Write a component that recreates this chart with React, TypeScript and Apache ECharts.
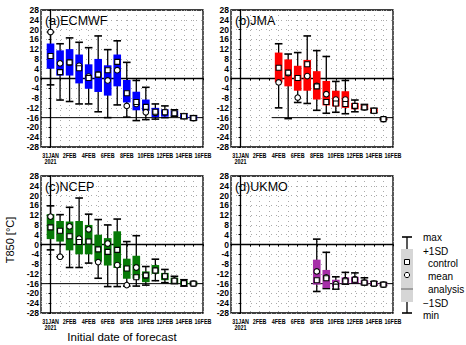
import React, { useEffect, useRef } from "react";
import * as echarts from "echarts";

// x = day index from 31 JAN 2021 (0) to 16 FEB (16)
const DATE_TICKS = [0, 2, 4, 6, 8, 10, 12, 14, 16];
const DATE_LABELS = ["31JAN", "2FEB", "4FEB", "6FEB", "8FEB", "10FEB", "12FEB", "14FEB", "16FEB"];
const YEAR_LABEL = "2021";
const Y_TICKS_MIN = -28;
const Y_TICKS_MAX = 28;
const ANALYSIS = -16;

// ECMWF
const ecDays = [0, 1, 2, 3, 4, 5, 6, 7, 8, 9, 10, 11, 12, 13, 14, 15];
const ecMax = [19, 14.2, 16.6, 14.8, 12.6, 17.4, 11.8, 15.4, 6.6, -0.8, -3.6, -10.4, -11.2, -12.8, -14.4, -15.2];
const ecHi = [14.3, 11.5, 12, 9.8, 5.8, 8, 5.4, 9.8, -0.6, -5.4, -8.6, -12, -12.6, -13.2, -14.6, -15.4];
const ecLo = [4, 1.2, 1.2, -2, -4.2, -5.5, -7, -3.2, -9.8, -13, -13.2, -15.8, -15.6, -15.2, -16.2, -16.8];
const ecMin = [-2.6, -8.8, -9.4, -10.4, -10.4, -13.6, -16, -10.8, -15.8, -17.2, -16.8, -16.6, -16, -15.4, -16.4, -17];
const ecCtl = [9.2, 2.6, 6.6, 4.2, 0.2, 1.6, 3.4, 6.8, -6, -9.6, -11.6, -13.6, -13.8, -14.2, -15.4, -16.2];
const ecMean = [19, 6.2, 6.6, 5.2, 0.8, 1.6, -0.8, 3.4, -11.2, -10.4, -13.8, -14, -13.8, -14.2, -15.4, -16.2];

// JMA
const jmDays = [4, 5, 6, 7, 8, 9, 10, 11, 12, 13, 14, 15];
const jmMax = [14.2, 10, 10.6, 17.4, 11.4, 9, -1.2, -0.8, -8.8, -10.6, -12.2, -16.4];
const jmHi = [10.6, 7.8, 5.2, 7.6, 3, -1, -5, -5.2, -10, -10.8, -12.4, -16.4];
const jmLo = [-1.6, -3.2, -5, -5, -8.6, -11, -11.4, -12, -12.6, -12.4, -13.8, -16.8];
const jmMin = [-12, -16.4, -9.8, -10.2, -13, -14.2, -13.8, -14.4, -13.6, -12.6, -14, -16.8];
const jmCtl = [4.4, 2.4, 0.2, 5.8, -3.2, -9.6, -10.2, -10.4, -11.2, -11.8, -13.2, -16.6];
const jmMean = [-1.6, 2.2, -7.8, 1, -3, -6.4, -8.6, -8.6, -11.4, -11.8, -13.2, -16.6];

// NCEP
const ncDays = [0, 1, 2, 3, 4, 5, 6, 7, 8, 9, 10, 11, 12, 13, 14, 15];
const ncMax = [15.8, 12.2, 15.2, 19, 12.4, 10.2, 8, 10.4, 1.2, 3.6, -9, -6, -10.2, -13, -14.4, -15.4];
const ncHi = [12.4, 9.6, 9.4, 9.6, 8, 4, 2.6, 5.4, -5.8, -4.6, -11, -8.4, -11.6, -13.6, -14.8, -15.4];
const ncLo = [2.2, 1.2, -2.4, -4, -4, -7, -8.6, -9.6, -14, -14, -15.4, -12, -14.6, -15.8, -16.6, -16.4];
const ncMin = [-2.2, -5, -9.4, -9.4, -7.6, -13.8, -17.2, -17.2, -17, -17, -16.6, -14.8, -15.6, -16, -17, -16.4];
const ncCtl = [7, 5.6, 3.4, 1, 1.2, -2, -3, -2.2, -9.8, -13.4, -12.6, -10.6, -13, -14.8, -15.8, -16];
const ncMean = [11.4, -5, 7.4, 2.4, 6.2, -7.2, 0.4, -8.4, -16.6, -9.4, -12.6, -10.6, -13, -14.8, -15.8, -16];

// UKMO
const ukDays = [8, 9, 10, 11, 12, 13, 14, 15];
const ukMax = [2.2, -3.2, -13.2, -11.4, -11.6, -13.6, -15.2, -15.6];
const ukHi = [-6.2, -10.4, -14.4, -13.4, -13.2, -14.6, -15.4, -15.8];
const ukLo = [-16.4, -17.8, -17.6, -16, -15.8, -16.4, -16.6, -16.8];
const ukMin = [-19.2, -18, -18.2, -16.2, -15.8, -16.4, -16.6, -16.8];
const ukCtl = [-14.6, -13.8, -17.2, -15, -14.4, -15.6, -16, -16.4];
const ukMean = [-11, -13.4, -16.2, -14.6, -14.2, -15.6, -16, -16.4];

const MODELS = [
  { name: "(a)ECMWF", color: "#0000ff", days: ecDays, max: ecMax, hi: ecHi, lo: ecLo, min: ecMin, ctl: ecCtl, mean: ecMean, aStart: -1 },
  { name: "(b)JMA", color: "#ff0000", days: jmDays, max: jmMax, hi: jmHi, lo: jmLo, min: jmMin, ctl: jmCtl, mean: jmMean, aStart: 3.3 },
  { name: "(c)NCEP", color: "#067a06", days: ncDays, max: ncMax, hi: ncHi, lo: ncLo, min: ncMin, ctl: ncCtl, mean: ncMean, aStart: -1 },
  { name: "(d)UKMO", color: "#a62ea8", days: ukDays, max: ukMax, hi: ukHi, lo: ukLo, min: ukMin, ctl: ukCtl, mean: ukMean, aStart: 7.4 },
];

const GRIDS = [
  { left: 41, top: 10 },
  { left: 231, top: 10 },
  { left: 41, top: 176 },
  { left: 231, top: 176 },
];
const GW = 162;
const GH = 137;
const FONT = "'Liberation Sans', Arial, sans-serif";

export default function App() {
  const ref = useRef<HTMLDivElement>(null);
  useEffect(() => {
    if (!ref.current) return;
    const chart = echarts.init(ref.current, undefined, { renderer: "svg" });
    const grid: any[] = [];
    const xAxis: any[] = [];
    const yAxis: any[] = [];
    const series: any[] = [];
    const graphic: any[] = [];

    MODELS.forEach((m, i) => {
      const g = GRIDS[i];
      grid.push({ left: g.left, top: g.top, width: GW, height: GH, show: true, borderColor: "#000", borderWidth: 1.3, containLabel: false });
      xAxis.push({
        type: "value", gridIndex: i, min: -1, max: 16, interval: 1,
        axisLine: { show: true, lineStyle: { color: "#000", width: 1.3 } },
        axisTick: { show: true, length: 2, lineStyle: { color: "#000" } },
        axisLabel: { show: false },
        splitLine: { show: true, lineStyle: { color: "#aaa", type: [1, 4], width: 1 } },
      });
      yAxis.push({
        type: "value", gridIndex: i, min: Y_TICKS_MIN, max: Y_TICKS_MAX, interval: 4,
        axisLine: { show: true, lineStyle: { color: "#000", width: 1.3 } },
        axisTick: { show: true, length: 2, lineStyle: { color: "#000" } },
        axisLabel: { fontSize: 8.5, fontFamily: FONT, color: "#000", margin: 2, fontWeight: "bold" },
        splitLine: { show: true, lineStyle: { color: "#aaa", type: [1, 4], width: 1 } },
      });
      series.push({
        type: "line", xAxisIndex: i, yAxisIndex: i, symbol: "none", z: 1,
        data: [[m.aStart, ANALYSIS], [16, ANALYSIS]],
        lineStyle: { color: "#000", width: 1 },
      });
      const data = m.days.map((d, k) => [d, m.min[k], m.lo[k], m.hi[k], m.max[k], m.ctl[k], m.mean[k]]);
      const color = m.color;
      series.push({
        type: "custom", xAxisIndex: i, yAxisIndex: i, z: 3,
        encode: { x: 0, y: [1, 4] },
        data,
        renderItem: (params: any, api: any) => {
          const x = api.value(0);
          const pMin = api.coord([x, api.value(1)]);
          const pLo = api.coord([x, api.value(2)]);
          const pHi = api.coord([x, api.value(3)]);
          const pMax = api.coord([x, api.value(4)]);
          const pCtl = api.coord([x, api.value(5)]);
          const pMean = api.coord([x, api.value(6)]);
          const unit = api.size([1, 0])[0];
          const bw = unit * 0.8;
          const cw = unit * 0.8;
          const cx = pMin[0];
          return {
            type: "group",
            children: [
              { type: "line", shape: { x1: cx, y1: pMax[1], x2: cx, y2: pMin[1] }, style: { stroke: "#000", lineWidth: 1.3 } },
              { type: "line", shape: { x1: cx - cw / 2, y1: pMax[1], x2: cx + cw / 2, y2: pMax[1] }, style: { stroke: "#000", lineWidth: 1.6 } },
              { type: "line", shape: { x1: cx - cw / 2, y1: pMin[1], x2: cx + cw / 2, y2: pMin[1] }, style: { stroke: "#000", lineWidth: 1.6 } },
              { type: "rect", shape: { x: cx - bw / 2, y: pHi[1], width: bw, height: Math.max(pLo[1] - pHi[1], 1) }, style: { fill: color } },
              { type: "circle", shape: { cx, cy: pMean[1], r: 2.8 }, style: { fill: "#fff", stroke: "#000", lineWidth: 1.1 } },
              { type: "rect", shape: { x: cx - 2.5, y: pCtl[1] - 2.5, width: 5, height: 5 }, style: { fill: "#fff", stroke: "#000", lineWidth: 1.1 } },
            ],
          };
        },
      });
    });

    chart.setOption({ animation: false, backgroundColor: "#fff", grid, xAxis, yAxis, series });

    MODELS.forEach((m, i) => {
      const g = GRIDS[i];
      graphic.push({
        type: "text", x: g.left + 4, y: g.top + 4, z: 10,
        style: { text: m.name, fontSize: 12.5, fontFamily: FONT, fill: "#000" },
      });
      DATE_TICKS.forEach((d, k) => {
        const p = chart.convertToPixel({ gridIndex: i }, [d, Y_TICKS_MIN]) as number[];
        graphic.push({
          type: "text", x: p[0], y: p[1] + 4, scaleX: 0.72, z: 10,
          style: { text: DATE_LABELS[k], fontSize: 7.5, fontFamily: FONT, fontWeight: "bold", fill: "#000", textAlign: "center", textVerticalAlign: "top" },
        });
        if (k === 0) {
          graphic.push({
            type: "text", x: p[0], y: p[1] + 10.5, scaleX: 0.72, z: 10,
            style: { text: YEAR_LABEL, fontSize: 7.5, fontFamily: FONT, fontWeight: "bold", fill: "#000", textAlign: "center", textVerticalAlign: "top" },
          });
        }
      });
    });

    // axis titles
    graphic.push({
      type: "text", x: 10, y: 240, rotation: Math.PI / 2, z: 10,
      style: { text: "T850 [°C]", fontSize: 11, fontFamily: FONT, fill: "#000", textAlign: "center", textVerticalAlign: "middle" },
    });
    graphic.push({
      type: "text", x: 122, y: 337, z: 10,
      style: { text: "Initial date of forecast", fontSize: 11.5, fontFamily: FONT, fill: "#000", textAlign: "center", textVerticalAlign: "middle" },
    });

    // legend key
    const lx = 407;
    graphic.push(
      { type: "line", shape: { x1: lx, y1: 237, x2: lx, y2: 313 }, style: { stroke: "#000", lineWidth: 1.3 } },
      { type: "line", shape: { x1: lx - 5, y1: 237, x2: lx + 5, y2: 237 }, style: { stroke: "#000", lineWidth: 1.6 } },
      { type: "line", shape: { x1: lx - 5, y1: 313, x2: lx + 5, y2: 313 }, style: { stroke: "#000", lineWidth: 1.6 } },
      { type: "rect", shape: { x: lx - 6, y: 249, width: 12, height: 53 }, style: { fill: "#d6d6d6" } },
      { type: "rect", shape: { x: lx - 2.5, y: 259.5, width: 5, height: 5 }, style: { fill: "#fff", stroke: "#000", lineWidth: 1 } },
      { type: "circle", shape: { cx: lx, cy: 275, r: 2.6 }, style: { fill: "#fff", stroke: "#000", lineWidth: 1 } },
      { type: "line", shape: { x1: lx - 6, y1: 289, x2: lx + 6, y2: 289 }, style: { stroke: "#666", lineWidth: 1 } },
    );
    const legendTexts: [string, number, number][] = [
      ["max", 423, 237], ["+1SD", 423, 251], ["control", 428, 263], ["mean", 428, 276],
      ["analysis", 428, 289], ["\u22121SD", 423, 303], ["min", 423, 315],
    ];
    legendTexts.forEach(([t, x, y]) => {
      graphic.push({ type: "text", x, y, style: { text: t, fontSize: 10, fontFamily: FONT, fill: "#000", textVerticalAlign: "middle" } });
    });

    chart.setOption({ graphic });
    return () => chart.dispose();
  }, []);
  return <div ref={ref} style={{ position: "fixed", left: 0, top: 0, width: 466, height: 345 }} />;
}
